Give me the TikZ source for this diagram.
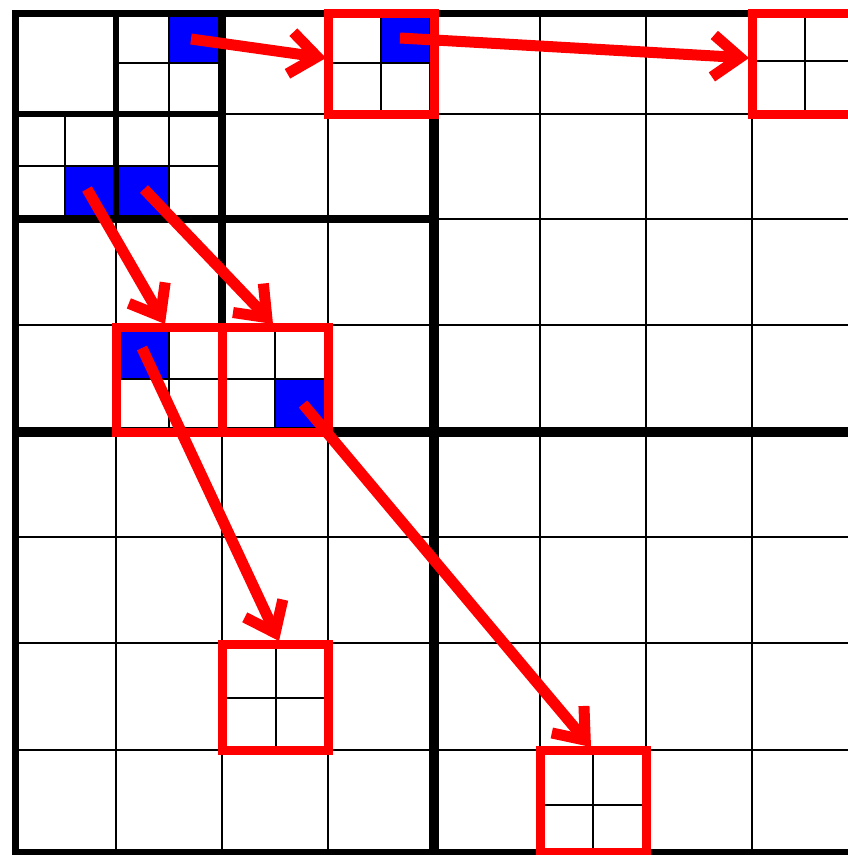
\documentclass[tikz,border=0pt]{standalone}
\usetikzlibrary{arrows.meta}
\definecolor{pblue}{RGB}{0,0,255}
\definecolor{pred}{RGB}{255,0,0}
\begin{document}
\begin{tikzpicture}[x=1pt,y=-1pt,
  thingrid/.style={line width=2.5pt, black},
  lvlthree/.style={line width=6.5pt, black},
  lvltwo/.style={line width=8pt, black},
  lvlone/.style={line width=10pt, black},
  outer/.style={line width=7pt, black},
  bluecell/.style={fill=pblue, draw=none},
  redbox/.style={draw=pred, line width=9pt, inner sep=0pt, outer sep=0pt, rectangle},
  redarrow/.style={draw=pred, line width=11pt, -{Straight Barb[length=27pt,width=42pt]}}
]
\useasboundingbox (0,0) rectangle (848,855);
\clip (0,0) rectangle (848,855);
\fill[white] (0,0) rectangle (848,855);

% blue cells
\path[bluecell] (169,13) rectangle (222,63);
\path[bluecell] (65,166) rectangle (116,219);
\path[bluecell] (116,166) rectangle (169,219);
\path[bluecell] (381,13) rectangle (434,63);
\path[bluecell] (116,325) rectangle (169,379);
\path[bluecell] (275,379) rectangle (328,432);

% thin grid lines
\draw[thingrid] (540,13) -- (540,852) (646,13) -- (646,852) (752,13) -- (752,852);
\draw[thingrid] (15,537) -- (858,537) (15,643) -- (858,643) (15,750) -- (858,750);
\draw[thingrid] (116,219) -- (116,852) (328,13) -- (328,852) (222,432) -- (222,852);
\draw[thingrid] (15,325) -- (858,325) (222,114) -- (858,114) (434,219) -- (858,219);
% sub-cell lines
\draw[thingrid] (169,13) -- (169,114) (116,63) -- (222,63);
\draw[thingrid] (65,114) -- (65,219) (15,166) -- (116,166);
\draw[thingrid] (169,114) -- (169,219) (116,166) -- (222,166);
\draw[thingrid] (381,13) -- (381,114) (328,63) -- (434,63);
\draw[thingrid] (805,13) -- (805,114) (752,61) -- (858,61);
\draw[thingrid] (169,325) -- (169,432) (116,379) -- (222,379);
\draw[thingrid] (275,325) -- (275,432) (222,379) -- (328,379);
\draw[thingrid] (276,643) -- (276,750) (222,698) -- (328,698);
\draw[thingrid] (593,750) -- (593,852) (540,805) -- (646,805);

% thick quadtree lines
\draw[lvlthree] (116,13) -- (116,219) (15,114) -- (222,114);
\draw[lvltwo] (222,13) -- (222,432) (15,219) -- (434,219);
\draw[lvlone] (434,13) -- (434,852) (15,432) -- (858,432);
\draw[outer] (15,13) rectangle (858,852);

% red boxes
\node[redbox, minimum width=106pt, minimum height=101pt] (A) at (381,63.5) {};
\node[redbox, minimum width=106pt, minimum height=101pt] (B) at (805,63.5) {};
\node[redbox, minimum width=106pt, minimum height=105pt] (C) at (169,379.5) {};
\node[redbox, minimum width=106pt, minimum height=105pt] (D) at (275,379.5) {};
\node[redbox, minimum width=106pt, minimum height=106pt] (E) at (275,697.5) {};
\node[redbox, minimum width=106pt, minimum height=102pt] (F) at (593,801) {};

% arrow endpoints
\coordinate (s1) at (191,39);  \coordinate (t1) at (326,58);
\coordinate (s2) at (400,38);  \coordinate (t2) at (749,58);
\coordinate (s3) at (87,189);  \coordinate (t3) at (165,324);
\coordinate (s4) at (144,189); \coordinate (t4) at (273,324);
\coordinate (s5) at (142,348); \coordinate (t5) at (279,641);
\coordinate (s6) at (303,404); \coordinate (t6) at (591,747);

\draw[redarrow] (s1) -- (t1);
\draw[redarrow] (s2) -- (t2);
\draw[redarrow] (s3) -- (t3);
\draw[redarrow] (s4) -- (t4);
\draw[redarrow] (s5) -- (t5);
\draw[redarrow] (s6) -- (t6);
\end{tikzpicture}
\end{document}
